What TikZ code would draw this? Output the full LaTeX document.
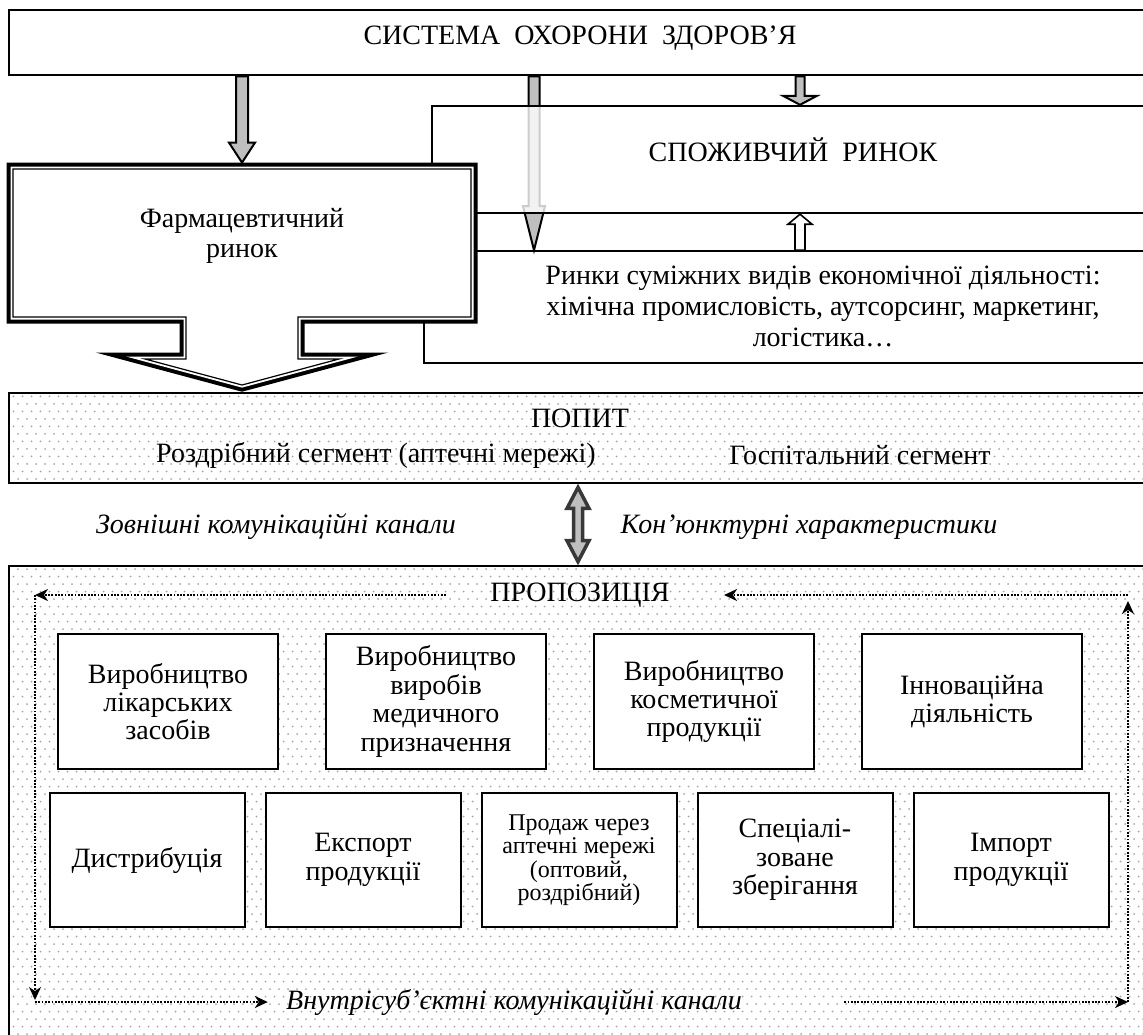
\documentclass[tikz,border=0pt]{standalone}
\usepackage{fontspec}
\setmainfont{Liberation Serif}
\usetikzlibrary{arrows.meta, calc, patterns, positioning}

\pgfdeclarepatternformonly{dot grid}{\pgfqpoint{-1pt}{-1pt}}{\pgfqpoint{4pt}{6.5pt}}{\pgfqpoint{4.5pt}{7.5pt}}%
{
	\pgfpathcircle{\pgfqpoint{0pt}{0pt}}{0.5pt}
	\pgfpathcircle{\pgfqpoint{2.25pt}{3.75pt}}{0.5pt}
	\pgfusepath{fill}
}

% vertical block arrow: [style]{from}{tip}{half shaft}{half head}{head base offset}
\newcommand{\blockarrow}[6][]{%
	\coordinate (hb) at ($(#3)+(0,#6)$);
	\draw[#1] ($(#2)+(-#4,0)$) -- ($(hb)+(-#4,0)$) -- ($(hb)+(-#5,0)$) -- (#3)
		-- ($(hb)+(#5,0)$) -- ($(hb)+(#4,0)$) -- ($(#2)+(#4,0)$) -- cycle;}

\def\pharmoutline{(13,169) -- (471,169) -- (471,317) -- (298,317) -- (298,359) -- (339,359)
	-- (242,385) -- (145,359) -- (186,359) -- (186,317) -- (13,317) -- cycle}

\begin{document}
\begin{tikzpicture}[x=0.5pt, y=-0.5pt]
	\tikzstyle{bigbox}=[rectangle, draw=black, line width=1.4pt, inner sep=0pt, minimum width=571pt]
	\tikzstyle{dotbox}=[bigbox, pattern=dot grid, pattern color=black!35]
	\tikzstyle{mktbox}=[rectangle, draw=black, inner sep=0pt]
	\tikzstyle{actbox}=[rectangle, draw=black, line width=1pt, fill=white, inner sep=1pt, align=center, minimum width=110pt, minimum height=67.5pt, node distance=134pt, font=\fontsize{14}{14.2}\selectfont]
	\tikzstyle{svcbox}=[actbox, minimum width=97.5pt, minimum height=67pt, node distance=108pt]
	\tikzstyle{txt}=[font=\fontsize{14}{15}\selectfont, align=center, inner sep=0pt]
	\tikzstyle{itxt}=[txt, font=\fontsize{14}{15}\selectfont\itshape]
	\tikzstyle{greyarrow}=[draw=black, line width=1pt, fill=black!25]
	\tikzstyle{openarrow}=[draw=black, line width=0.8pt, fill=white]
	\tikzstyle{dblarrow}=[draw=black!78, line width=1.75pt, fill=black!25]
	\tikzstyle{chan}=[line width=0.9pt, dash pattern=on 0.9pt off 0.75pt, -{Stealth[length=6.5pt, width=6pt, inset=2pt]}]

	\useasboundingbox (0,0) rectangle (1143,1034);
	\fill[white] (0,0) rectangle (1143,1034);
	\clip (0,0) rectangle (1143,1034);

	\coordinate (mid) at (534,0);
	\coordinate (c3) at (800,0);
	\coordinate (c4) at (578,0);

	\node[bigbox, minimum height=32.5pt] (sys) at (580,42.5) {};
	\node[txt] (systxt) at (580,38) {СИСТЕМА\ \ ОХОРОНИ\ \ ЗДОРОВ’Я};
	\node[mktbox, line width=0.8pt, minimum width=363.5pt, minimum height=56pt] (sum) at (787.5,307) {};
	\node[txt, font=\fontsize{14}{15.5}\selectfont] (sumtxt) at (823,306) {Ринки суміжних видів економічної діяльності:\\хімічна промисловість, аутсорсинг, маркетинг,\\логістика…};

	\coordinate (m1) at (sys.south -| mid);
	\coordinate (m2) at (sum.north -| mid);
	\blockarrow[greyarrow]{m1}{m2}{5.5}{11}{-44}

	\node[mktbox, line width=1.2pt, fill=white, fill opacity=0.8, minimum width=359.5pt, minimum height=53.5pt] (spoz) at (791.5,159.5) {};
	\node[txt] (spoztxt) at (793,150) {СПОЖИВЧИЙ\ \ РИНОК};
	\coordinate (s1) at (sys.south -| c3);
	\coordinate (s2) at (spoz.north -| c3);
	\blockarrow[greyarrow]{s1}{s2}{4.5}{17}{-9}
	\coordinate (u1) at (sum.north -| c3);
	\coordinate (u2) at (spoz.south -| c3);
	\blockarrow[openarrow]{u1}{u2}{5}{12}{10}

	% pharmaceutical market
	\draw[line width=6.5pt] \pharmoutline;
	\draw[line width=2.5pt, white] \pharmoutline;
	\fill[white] \pharmoutline;
	\draw[line width=0.6pt] \pharmoutline;
	\node[minimum width=235pt, minimum height=80pt, inner sep=0pt] (pharm) at (242,243) {};
	\node[txt] (pharmtxt) at (242,236) {Фармацевтичний\\ринок};
	\coordinate (f1) at (sys.south -| pharm.north);
	\blockarrow[greyarrow]{f1}{pharm.north}{6}{13}{-20}

	% demand
	\node[dotbox, minimum height=45pt] (popyt) at (580,438) {};
	\node[txt] (popyttxt) at (580,418) {ПОПИТ};
	\node[txt] (retail) at (376,455) {Роздрібний сегмент (аптечні мережі)};
	\node[txt] (hosp) at (860,455) {Госпітальний сегмент};

	\node[itxt] (exttxt) at (276,527) {Зовнішні комунікаційні канали};
	\node[itxt] (contxt) at (809,527) {Кон’юнктурні характеристики};

	% supply
	\node[dotbox, minimum height=240pt] (prop) at (580,806) {};
	\node[txt] (proptxt) at (580,595) {ПРОПОЗИЦІЯ};

	\coordinate (d1) at (popyt.south -| c4);
	\coordinate (d2) at (prop.north -| c4);
	\draw[dblarrow] ($(d1)+(0,3)$) -- ($(d1)+(11,24)$) -- ($(d1)+(4.5,24)$) -- ($(d2)+(4.5,-24)$)
		-- ($(d2)+(11,-24)$) -- ($(d2)+(0,-3)$) -- ($(d2)+(-11,-24)$) -- ($(d2)+(-4.5,-24)$)
		-- ($(d1)+(-4.5,24)$) -- ($(d1)+(-11,24)$) -- cycle;

	\node[actbox] (prod1) at (168,701.5) {Виробництво\\лікарських\\засобів};
	\node[actbox, right of=prod1] (prod2) {Виробництво\\виробів\\медичного\\призначення};
	\node[actbox, right of=prod2] (prod3) {Виробництво\\косметичної\\продукції};
	\node[actbox, right of=prod3] (innov) {Інноваційна\\діяльність};

	\node[svcbox] (distr) at (147,860) {Дистрибуція};
	\node[svcbox, right of=distr] (export) {Експорт\\продукції};
	\node[svcbox, right of=export, font=\fontsize{12}{11.7}\selectfont] (sales) {Продаж через\\аптечні мережі\\(оптовий,\\роздрібний)};
	\node[svcbox, right of=sales] (store) {Спеціалі-\\зоване\\зберігання};
	\node[svcbox, right of=store] (import) {Імпорт\\продукції};

	\coordinate (ptl) at (35,595);
	\coordinate (pbl) at (35,1002);
	\coordinate (ptr) at (1128,595);
	\coordinate (pbr) at (1128,1002);
	\node[itxt] (inttxt) at (514,1002) {Внутрісуб’єктні комунікаційні канали};
	\draw[chan, shorten <=22pt] (proptxt.west) -- (ptl);
	\draw[chan, shorten >=1pt] (ptl) -- (pbl);
	\draw[chan, shorten >=9pt] (pbl) -- (inttxt.west);
	\draw[chan, shorten <=51pt] (inttxt.east) -- (pbr);
	\draw[chan, shorten >=3pt] (pbr) -- (ptr);
	\draw[chan, shorten >=27pt] (ptr) -- (proptxt.east);
\end{tikzpicture}
\end{document}
